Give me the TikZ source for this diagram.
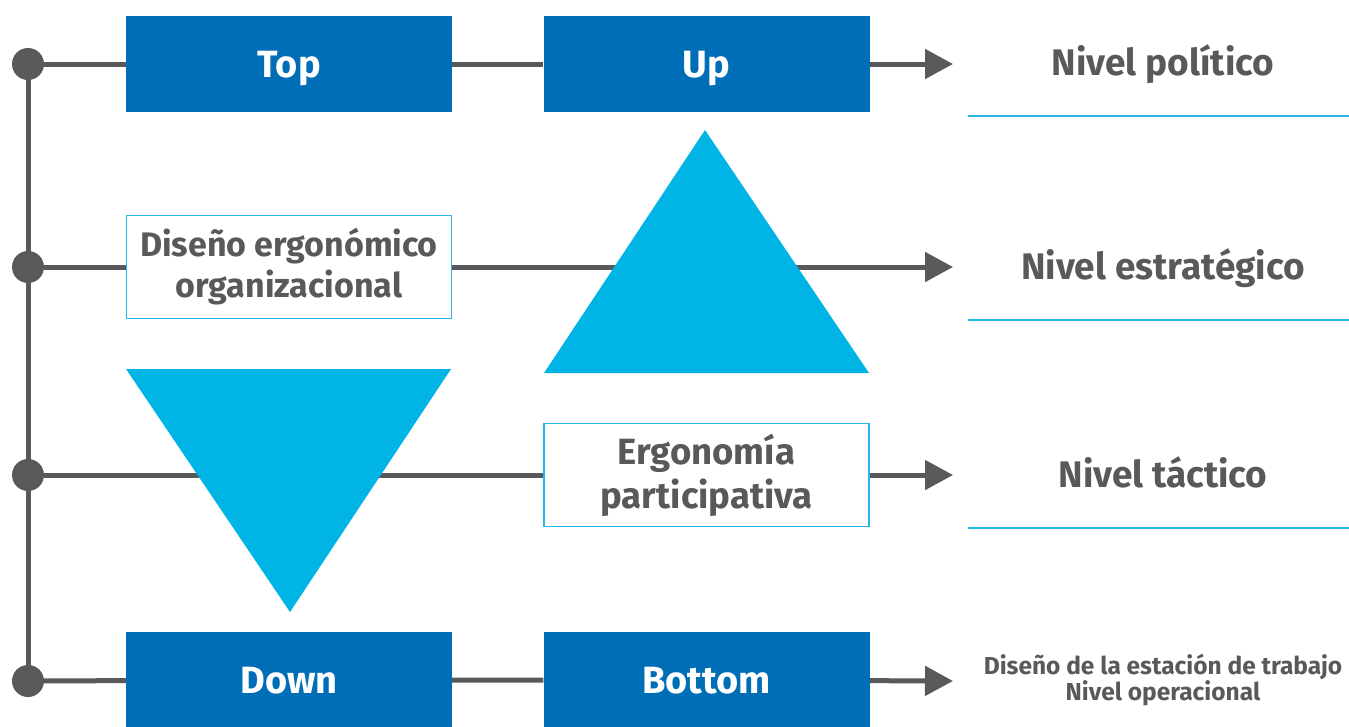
\documentclass[tikz,border=0pt]{standalone}
\usepackage{fontspec}
\setmainfont{Fira Sans}
\usetikzlibrary{arrows.meta,backgrounds}
\definecolor{boxblue}{RGB}{0,110,182}
\definecolor{triblue}{RGB}{0,181,230}
\definecolor{edgeblue}{RGB}{41,182,232}
\definecolor{linegray}{RGB}{88,89,91}
\tikzset{
    darkbox/.style={
        rectangle,
        fill=boxblue, % relleno azul oscuro
        text=white,
        minimum width=326pt,
        minimum height=96pt,
        inner sep=0,
        text height=26pt,
        text depth=0pt,
        font=\bfseries\fontsize{38}{40}\selectfont
    },
    lightbox/.style={
        rectangle,
        draw=edgeblue, % borde azul claro
        line width=1.5pt,
        fill=white,
        text=linegray,
        minimum width=325pt,
        minimum height=103pt,
        align=center,
        inner sep=0,
        font=\bfseries\fontsize{34}{41}\selectfont
    },
    dotnode/.style={
        circle,
        fill=linegray,
        minimum size=32pt,
        inner sep=0
    },
    levelnode/.style={
        text=linegray,
        inner sep=0,
        text height=25.5pt,
        text depth=0pt,
        font=\bfseries\fontsize{37}{40}\selectfont
    },
    smalllevel/.style={
        text=linegray,
        align=center,
        inner sep=0,
        font=\bfseries\fontsize{24.5}{24.5}\selectfont
    },
    rowline/.style={draw=linegray, line width=5pt},
    rowarrow/.style={rowline, -{Triangle[length=28pt,width=29pt]}}
}
\begin{document}
\begin{tikzpicture}[x=1pt, y=-1pt]
    \useasboundingbox (0,0) rectangle (1349,726);
    % cajas
    \node[darkbox] (top) at (289,64) {Top};
    \node[darkbox] (up) at (706.5,64) {Up};
    \node[lightbox] (diseno) at (289,267) {Diseño ergonómico\\organizacional};
    \node[lightbox, font=\bfseries\fontsize{36.5}{44}\selectfont] (ergo) at (706.5,475)
        {Ergonomía\\participativa};
    \node[darkbox] (down) at (289,680) {Down};
    \node[darkbox] (bottom) at (706.5,680) {Bottom};
    % puntos
    \node[dotnode] (d1) at (28,64) {};
    \node[dotnode] (d2) at (28,267) {};
    \node[dotnode] (d3) at (28,475) {};
    \node[dotnode] (d4) at (28,681) {};
    % niveles
    \node[levelnode] (l1) at (1163,63) {Nivel político};
    \node[levelnode] (l2) at (1163,267) {Nivel estratégico};
    \node[levelnode] (l3) at (1163,475) {Nivel táctico};
    \node[smalllevel] (l4) at (1163,680)
        {Diseño de la estación de trabajo\\Nivel operacional};
    \coordinate (e1) at (953,64);
    \coordinate (e2) at (953,267);
    \coordinate (e3) at (953,475);
    \coordinate (e4) at (953,681);
    % lineas
    \begin{scope}[on background layer]
        \draw[rowline] (d1.center) -- (d4.center);
        \draw[rowline] (d1) -- (top) (top) -- (up);
        \draw[rowarrow] (up) -- (e1);
        \draw[rowline] (d2) -- (diseno);
        \draw[rowarrow] (diseno) -- (e2);
        \draw[rowline] (d3) -- (ergo);
        \draw[rowarrow] (ergo) -- (e3);
        \draw[rowline] (d4) -- (down) (down) -- (bottom);
        \draw[rowarrow] (bottom) -- (e4);
    \end{scope}
    % triangulos
    \coordinate (upl) at (544,373);
    \coordinate (upt) at (705,130);
    \coordinate (upr) at (869,373);
    \fill[triblue] (upl) -- (upt) -- (upr) -- cycle;
    \coordinate (dnl) at (126,369);
    \coordinate (dnb) at (290,612);
    \coordinate (dnr) at (451,369);
    \fill[triblue] (dnl) -- (dnb) -- (dnr) -- cycle;
    % subrayados
    \foreach \y in {116,320,528}
        \draw[edgeblue, line width=1.5pt] (968,\y) -- (1349,\y);
\end{tikzpicture}
\end{document}
